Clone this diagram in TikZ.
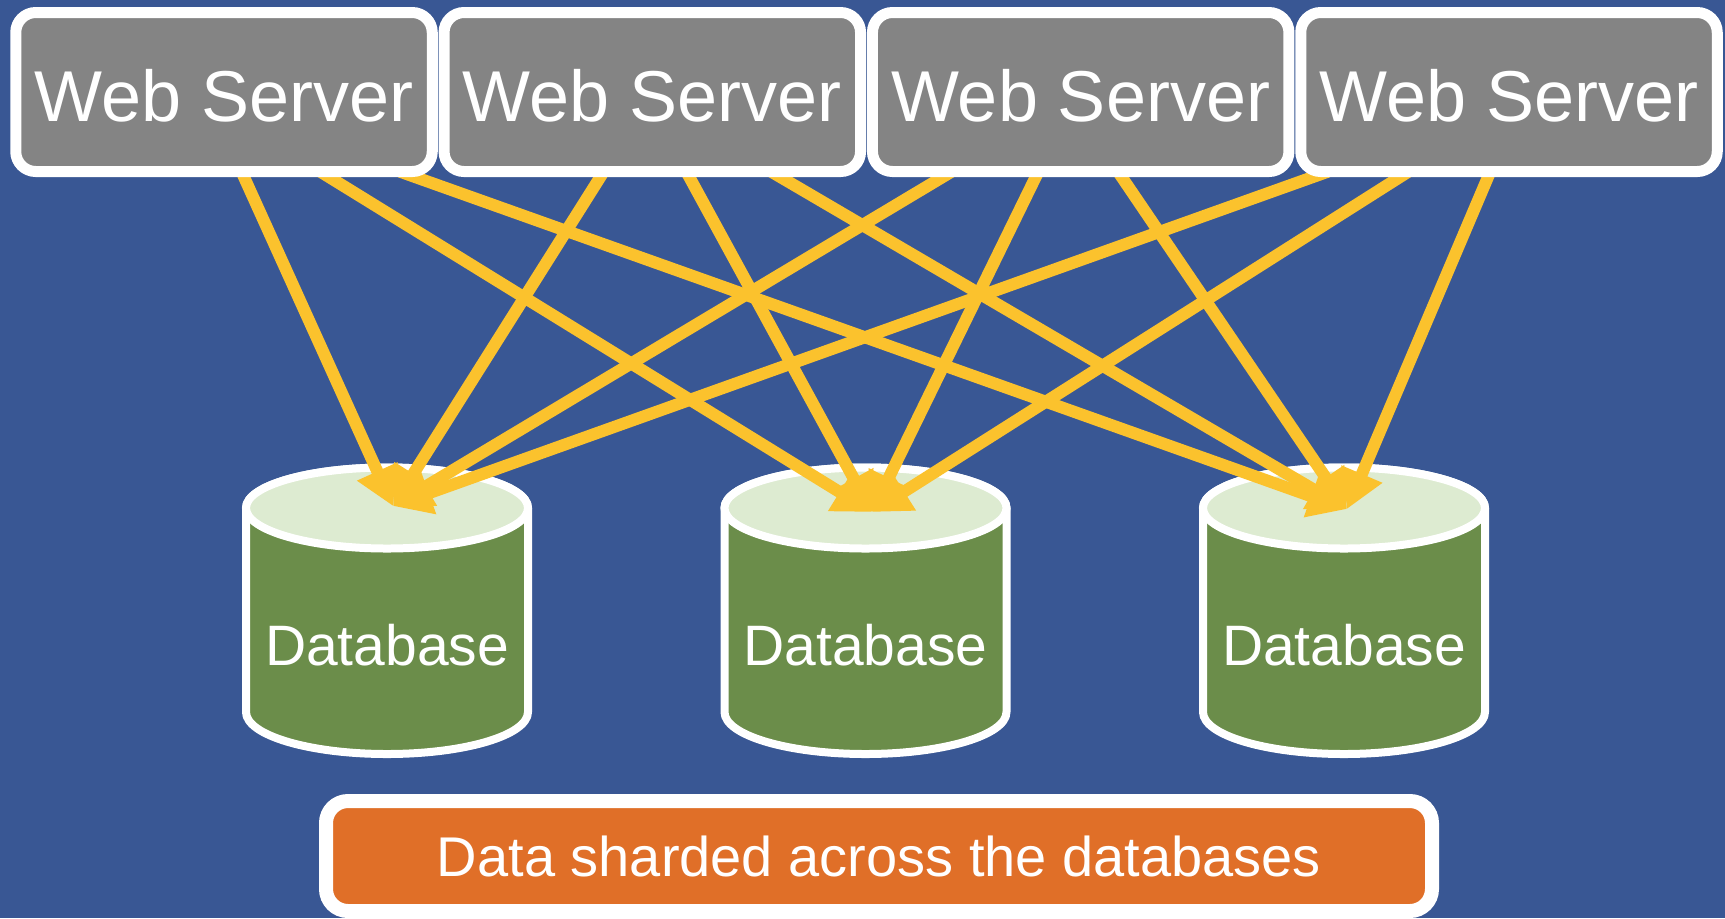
\documentclass[tikz,border=0pt]{standalone}
\usepackage{fontspec}
\setmainfont{Liberation Sans}
\usetikzlibrary{arrows.meta,calc}

\definecolor{bgblue}{RGB}{57,87,148}
\definecolor{srvgray}{RGB}{132,132,132}
\definecolor{dbgreen}{RGB}{107,141,74}
\definecolor{dbtop}{RGB}{221,235,209}
\definecolor{linkyellow}{RGB}{251,194,45}
\definecolor{noteorange}{RGB}{224,111,40}

\pgfdeclarelayer{back}
\pgfdeclarelayer{links}
\pgfsetlayers{back,links,main}

\begin{document}
\begin{tikzpicture}[x=0.5pt,y=-0.5pt,
  server/.style={rectangle, rounded corners=10pt, fill=srvgray, draw=white,
    line width=5.5pt, minimum width=208.25pt, minimum height=79.5pt,
    inner sep=0pt, text=white, font=\fontsize{36}{40}\selectfont},
  dbnode/.style={inner sep=0pt, text=white, font=\fontsize{28.5}{32}\selectfont},
  dbbody/.style={fill=dbgreen, draw=white, line width=4pt, line join=round},
  dbcap/.style={fill=dbtop, draw=white, line width=4pt},
  link/.style={draw=linkyellow, line width=6pt,
    -{Triangle[length=19pt,width=21pt]}, shorten <=-8pt},
  note/.style={rectangle, rounded corners=11pt, fill=noteorange, draw=white,
    line width=7pt, minimum width=553pt, minimum height=55pt, inner sep=0pt,
    text=white, font=\fontsize{28}{32}\selectfont}
]
\useasboundingbox (0,0) rectangle (1725,918);

% background
\begin{pgfonlayer}{back}
  \fill[bgblue] (0,0) rectangle (1725,918);
\end{pgfonlayer}

% web servers (label set slightly below the box centre)
\foreach \i/\x in {1/224,2/652.3,3/1080.7,4/1509}
  \node[server] (ws\i) at (\x,92) {\raisebox{-1.75pt}[\height][0pt]{Web Server}};

% databases: label nodes, cylinders drawn behind them
\foreach \i/\x in {1/387,2/865.5,3/1344}
  \node[dbnode] (db\i) at (\x,645) {Database};

\begin{pgfonlayer}{back}
  \foreach \i in {1,2,3}{
    \path[dbbody] ($(db\i)+(-141,-137)$) -- ($(db\i)+(-141,67)$)
      arc[start angle=180, end angle=360, x radius=70.5pt, y radius=21pt]
      -- ($(db\i)+(141,-137)$)
      arc[start angle=0, end angle=180, x radius=70.5pt, y radius=20.25pt]
      -- cycle;
    \path[dbcap] ($(db\i)+(0,-137)$) ellipse[x radius=70.5pt, y radius=20.25pt];
  }
\end{pgfonlayer}

% arrow targets on the database tops
\coordinate (t1) at ($(db1)+(6,-139)$);
\coordinate (t2) at ($(db2)+(6.5,-133)$);
\coordinate (t3) at ($(db3)+(3,-136)$);

% every server talks to every database
\begin{pgfonlayer}{links}
  \foreach \i/\j/\o in {1/1/20,1/2/105,1/3/191,
                        2/1/-52,2/2/37,2/3/128,
                        3/1/-138,3/2/-45,3/3/41,
                        4/1/-196,4/2/-109,4/3/-21}
    \draw[link] ($(ws\i.south)+(\o,0)$) -- (t\j);
\end{pgfonlayer}

% caption
\node[note] (msg) at (879,856) {Data sharded across the databases};
\end{tikzpicture}
\end{document}
